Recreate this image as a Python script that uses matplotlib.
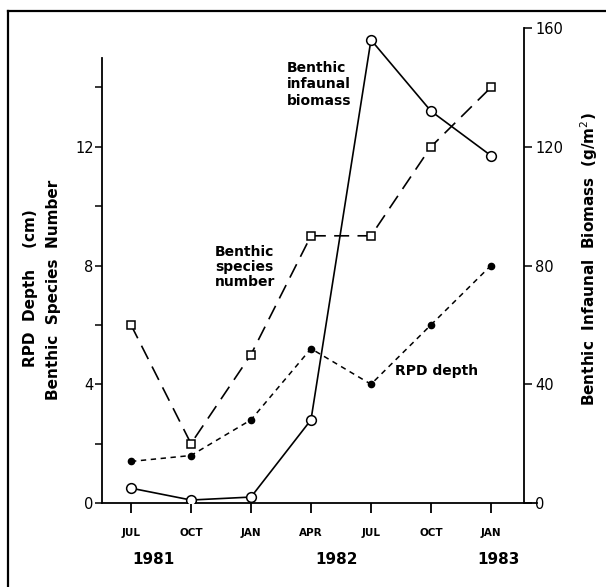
import matplotlib
matplotlib.use("Agg")
import matplotlib.pyplot as plt
from matplotlib.lines import Line2D
import matplotlib.transforms as mtransforms

# ---- data ----
months = ["JUL", "OCT", "JAN", "APR", "JUL", "OCT", "JAN"]
years = ["1981", "1982", "1983"]
species_number = [6, 2, 5, 9, 9, 12, 14]
rpd_depth = [1.4, 1.6, 2.8, 5.2, 4.0, 6.0, 8.0]
biomass = [5, 1, 2, 28, 156, 132, 117]
left_ticks = [0, 4, 8, 12]
left_minor = [2, 6, 10, 14]
right_ticks = [0, 40, 80, 120, 160]

# ---- layout ----
year_pos = [0.37, 3.43, 6.12]
x = list(range(len(months)))

W, H = 606, 587
fig = plt.figure(figsize=(W / 100, H / 100), dpi=100)
plt.rcParams['font.family'] = ['DejaVu Sans']

ax = fig.add_axes([102 / W, (H - 503) / H, (537 - 102) / W, (503 - 28) / H])
ax.set_xlim(-0.483, 6.767)
ax.set_ylim(0, 16)
ax2 = ax.twinx()
ax2.set_ylim(0, 160)

for a in (ax, ax2):
    a.patch.set_visible(False)
    a.spines["top"].set_visible(False)
ax.spines["right"].set_visible(False)
ax2.spines["left"].set_visible(False)
ax2.spines["bottom"].set_visible(False)
ax2.spines["right"].set_position(("data", 6.55))
ax.spines["left"].set_bounds(0, 15)
for sp in (ax.spines["left"], ax.spines["bottom"], ax2.spines["right"]):
    sp.set_linewidth(1.3)

# ticks
ax.set_xticks(x)
ax.set_xticklabels(months, fontsize=7.5, fontweight="bold")
ax.tick_params(axis="x", direction="out", length=7, width=1.3, pad=11)
ax.set_yticks(left_ticks)
ax.set_yticks(left_minor, minor=True)
ax.set_yticklabels([str(v) for v in left_ticks], fontsize=10.5)
ax.tick_params(axis="y", which="both", direction="out", length=5, width=1.1, pad=1)
ax2.set_yticks(right_ticks)
ax2.set_yticklabels([str(v) for v in right_ticks], fontsize=10.5)
ax2.tick_params(axis="y", direction="out", length=6, width=1.1, pad=2)

# series
ax.plot(x, species_number, color="black", lw=1.2, dashes=(9, 5),
        marker="s", ms=5.5, mfc="white", mec="black", mew=1.1, zorder=3)
ax.plot(x, rpd_depth, color="black", lw=1.1, dashes=(3.5, 3),
        marker="o", ms=4.5, mfc="black", mec="black", zorder=3)
ax2.plot(x, biomass, color="black", lw=1.2, linestyle="-",
         marker="o", ms=7, mfc="white", mec="black", mew=1.1, zorder=4)

# annotations
ax.text(2.6, 14.1, "Benthic\ninfaunal\nbiomass", fontsize=10, fontweight="bold",
        ha="left", va="center", linespacing=1.2)
ax.text(1.4, 7.95, "Benthic\nspecies\nnumber", fontsize=10, fontweight="bold",
        ha="left", va="center", linespacing=1.05)
ax.text(4.4, 4.45, "RPD depth", fontsize=10, fontweight="bold",
        ha="left", va="center")

# year labels
trans = mtransforms.blended_transform_factory(ax.transData, fig.transFigure)
for yr, xp in zip(years, year_pos):
    ax.text(xp, (H - 560) / H, yr, transform=trans, fontsize=11,
            fontweight="bold", ha="center", va="center")

# axis labels
fig.text(31 / W, (H - 288) / H, "RPD  Depth    (cm)", rotation=90,
         fontsize=11, fontweight="bold", ha="center", va="center")
fig.text(54 / W, (H - 290) / H, "Benthic  Species  Number", rotation=90,
         fontsize=11, fontweight="bold", ha="center", va="center")
fig.text(589 / W, (H - 112) / H, "Benthic  Infaunal  Biomass  (g/m$^2$)",
         rotation=90, fontsize=11, fontweight="bold", ha="center", va="top")

# figure frame (left and top edges)
fig.add_artist(Line2D([8 / W, 8 / W], [0, (H - 11) / H], color="black", lw=1.6,
                      transform=fig.transFigure))
fig.add_artist(Line2D([8 / W, 1], [(H - 11) / H, (H - 11) / H], color="black",
                      lw=1.6, transform=fig.transFigure))

fig.savefig("out.png", dpi=100)
